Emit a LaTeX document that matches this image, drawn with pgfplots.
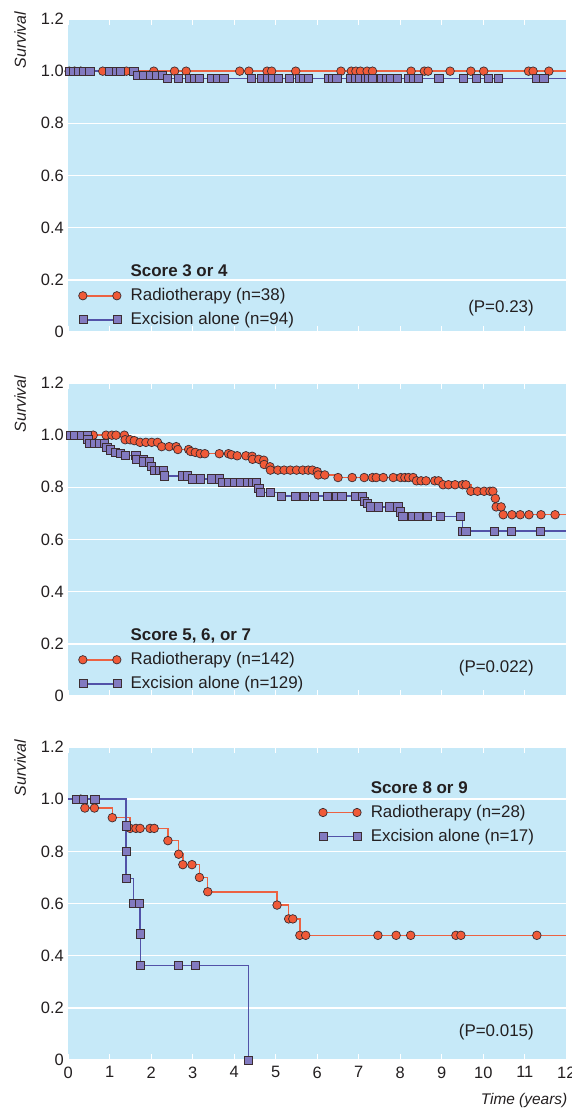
\documentclass[border=0pt]{standalone}
\usepackage{fontspec}
\setmainfont{Liberation Sans}
\usepackage{pgfplots}
\pgfplotsset{compat=1.18}
\usepackage{pgfplotstable}

\definecolor{bgblue}{RGB}{198,233,248}
\definecolor{redline}{RGB}{236,98,66}
\definecolor{redfill}{RGB}{240,90,56}
\definecolor{blueline}{RGB}{82,82,168}
\definecolor{bluefill}{RGB}{130,122,192}
\definecolor{edgec}{RGB}{60,45,50}
\definecolor{txt}{RGB}{35,31,32}

% ---------- Score 3 or 4 ----------
\pgfplotstableread{
t s
0 1
0.02 1
0.15 1
0.30 1
0.83 1
1.40 1
2.06 1
2.56 1
2.84 1
4.13 1
4.35 1
4.79 1
4.90 1
5.48 1
6.57 1
6.82 1
6.93 1
7.04 1
7.20 1
7.33 1
8.26 1
8.58 1
8.67 1
9.20 1
9.70 1
10.01 1
11.09 1
11.20 1
11.58 1
12 1
}\tRad
\pgfplotstableread{
t s
0 1
0.02 1
0.12 1
0.24 1
0.37 1
0.52 1
1.00 1
1.16 1
1.25 1
1.58 1
1.67 0.985
1.81 0.985
1.97 0.985
2.13 0.985
2.26 0.985
2.39 0.972
2.66 0.972
2.93 0.972
3.03 0.972
3.15 0.972
3.45 0.972
3.59 0.972
3.75 0.972
4.41 0.972
4.66 0.972
4.79 0.972
4.93 0.972
5.06 0.972
5.32 0.972
5.57 0.972
5.67 0.972
5.79 0.972
6.27 0.972
6.36 0.972
6.47 0.972
6.79 0.972
6.91 0.972
7.02 0.972
7.15 0.972
7.23 0.972
7.32 0.972
7.54 0.972
7.66 0.972
7.77 0.972
7.92 0.972
8.20 0.972
8.32 0.972
8.43 0.972
8.93 0.972
9.51 0.972
9.83 0.972
10.12 0.972
10.36 0.972
11.27 0.972
11.46 0.972
12 0.972
}\tExc

% ---------- Score 5, 6, or 7 ----------
\pgfplotstableread{
t s
0 1
0.60 1
0.91 1
1.05 1
1.15 1
1.35 1
1.37 0.9825
1.49 0.9825
1.59 0.979
1.73 0.9725
1.87 0.9725
2.01 0.9725
2.15 0.9725
2.25 0.956
2.43 0.956
2.60 0.956
2.64 0.945
2.90 0.945
2.95 0.9375
3.06 0.934
3.18 0.929
3.29 0.929
3.64 0.929
3.86 0.929
3.93 0.925
4.07 0.921
4.28 0.921
4.43 0.919
4.44 0.9075
4.59 0.9075
4.71 0.904
4.72 0.8875
4.86 0.879
4.87 0.866
5.05 0.866
5.20 0.866
5.35 0.866
5.50 0.866
5.65 0.866
5.78 0.866
5.88 0.866
6.00 0.86
6.02 0.8475
6.18 0.8475
6.50 0.8375
6.84 0.8375
7.13 0.8375
7.33 0.8375
7.42 0.8375
7.59 0.8375
7.83 0.8375
8.01 0.8375
8.11 0.8375
8.20 0.8375
8.31 0.8375
8.39 0.825
8.50 0.825
8.62 0.825
8.83 0.825
8.92 0.825
9.03 0.81
9.16 0.81
9.32 0.81
9.50 0.81
9.58 0.81
9.70 0.785
9.86 0.785
10.02 0.785
10.16 0.785
10.23 0.785
10.29 0.7575
10.31 0.725
10.43 0.725
10.48 0.695
10.69 0.695
10.89 0.695
11.10 0.695
11.39 0.695
11.73 0.695
12 0.695
}\mRad
\pgfplotstableread{
t s
0 1
0.04 1
0.16 1
0.31 1
0.46 1
0.47 0.985
0.52 0.969
0.64 0.969
0.76 0.969
0.86 0.969
0.93 0.954
1.01 0.944
1.13 0.935
1.25 0.93
1.37 0.9225
1.63 0.9225
1.64 0.906
1.80 0.906
1.81 0.8975
1.96 0.8975
2.00 0.881
2.08 0.864
2.20 0.864
2.29 0.864
2.32 0.844
2.74 0.844
2.86 0.844
3.00 0.8325
3.18 0.8325
3.44 0.8325
3.64 0.8325
3.72 0.819
3.86 0.819
4.01 0.819
4.15 0.819
4.31 0.819
4.43 0.819
4.53 0.819
4.59 0.7975
4.63 0.78
4.87 0.78
5.14 0.766
5.48 0.766
5.68 0.766
5.92 0.766
6.24 0.766
6.47 0.766
6.59 0.766
6.93 0.766
7.08 0.766
7.13 0.7475
7.21 0.7375
7.28 0.725
7.47 0.725
7.74 0.725
7.94 0.725
8.00 0.706
8.06 0.689
8.30 0.689
8.43 0.689
8.62 0.689
8.66 0.689
8.96 0.689
9.45 0.689
9.50 0.6325
9.58 0.6325
10.27 0.6325
10.67 0.6325
11.38 0.6325
12 0.6325
}\mExc

% ---------- Score 8 or 9 ----------
\pgfplotstableread{
t s
0 1
0.30 1
0.40 0.966
0.63 0.966
1.06 0.929
1.49 0.888
1.63 0.888
1.73 0.888
1.97 0.888
2.07 0.888
2.40 0.841
2.66 0.789
2.76 0.749
2.98 0.749
3.16 0.70
3.36 0.645
5.03 0.594
5.31 0.541
5.41 0.541
5.58 0.478
5.72 0.478
7.46 0.478
7.90 0.478
8.25 0.478
9.34 0.478
9.46 0.478
11.29 0.478
12 0.478
}\bRad
\pgfplotstableread{
t s
0 1
0.20 1
0.36 1
0.64 1
1.39 0.898
1.39 0.80
1.39 0.696
1.57 0.60
1.71 0.60
1.73 0.484
1.74 0.363
2.65 0.363
3.06 0.363
4.34 0
}\bExc

\tikzset{ptext/.style={anchor=east, font=\fontsize{17}{20}\selectfont, text=txt}}

\pgfplotsset{
  panel/.style={
    scale only axis, width=498bp, height=313bp,
    xmin=0, xmax=12, ymin=0, ymax=1.2,
    axis background/.style={fill=bgblue},
    axis line style={draw=none},
    ytick={0,0.2,0.4,0.6,0.8,1.0,1.2},
    yticklabels={0,0.2,0.4,0.6,0.8,1.0,1.2},
    xtick={0,1,2,3,4,5,6,7,8,9,10,11,12},
    ymajorgrids,
    major grid style={white, line width=1.6bp},
    tick align=inside, major tick length=6bp,
    xtick style={white, line width=1.3bp},
    ytick style={draw=none},
    ticklabel style={font=\fontsize{16.5}{18}\selectfont, text=txt},
    xticklabel style={yshift=-3bp},
    yticklabel style={xshift=-1bp},
    /pgf/number format/assume math mode=true,
    clip=false,
    ylabel={Survival},
    ylabel style={at={(rel axis cs:0,1)}, anchor=center, xshift=-21bp, yshift=48bp,
      font=\itshape\fontsize{16}{18}\selectfont, text=txt},
    legend cell align=left,
    legend style={draw=none, fill=none, inner sep=0pt, outer sep=0pt,
      row sep=8bp, column sep=0pt, anchor=north west,
      font=\fontsize{17}{20}\selectfont, text=txt,
      nodes={inner sep=0pt, text height=12.5bp, text depth=3.5bp}},
  },
  legimg/.style={legend image code/.code={%
      \draw[##1] plot coordinates {(0bp,0bp) (34bp,0bp)};
      \path (47bp,0bp);}},
  radleg/.style={legimg, color=redline, line width=1.5bp, mark=*, mark size=4.2bp,
    mark options={solid, fill=redfill, draw=edgec, line width=0.7bp}},
  excleg/.style={legimg, color=blueline, line width=1.5bp, mark=square*, mark size=4.0bp,
    mark options={solid, fill=bluefill, draw=edgec, line width=0.7bp}},
  radline/.style={const plot, color=redline, line width=1.5bp, forget plot},
  excline/.style={const plot, color=blueline, line width=1.5bp, forget plot},
  radmarks/.style={only marks, mark=*, mark size=4.3bp,
    mark options={fill=redfill, draw=edgec, line width=0.7bp},
    restrict x to domain=0.01:11.99, forget plot},
  excmarks/.style={only marks, mark=square*, mark size=4.1bp,
    mark options={fill=bluefill, draw=edgec, line width=0.7bp},
    restrict x to domain=0.01:11.99, forget plot},
}

\begin{document}
\begin{tikzpicture}
% ---------- top ----------
\begin{axis}[panel, name=top, anchor=north west, at={(0bp,0bp)},
  xticklabels={},
  legend style={at={(0.0208,0.218)}}]
\addplot[radline] table {\tRad};
\addplot[excline] table {\tExc};
\addplot[radmarks] table {\tRad};
\addplot[excmarks] table {\tExc};
\addlegendimage{empty legend}
\addlegendentry{\textbf{Score 3 or 4}}
\addlegendimage{radleg}
\addlegendentry{Radiotherapy (n=38)}
\addlegendimage{excleg}
\addlegendentry{Excision alone (n=94)}
\node[ptext] at (axis cs:11.30,0.092) {(P=0.23)};
\end{axis}
% ---------- middle ----------
\begin{axis}[panel, name=mid, anchor=north west, at={(0bp,-364bp)},
  xticklabels={},
  legend style={at={(0.0208,0.218)}}]
\addplot[radline] table {\mRad};
\addplot[excline] table {\mExc};
\addplot[radmarks] table {\mRad};
\addplot[excmarks] table {\mExc};
\addlegendimage{empty legend}
\addlegendentry{\textbf{Score 5, 6, or 7}}
\addlegendimage{radleg}
\addlegendentry{Radiotherapy (n=142)}
\addlegendimage{excleg}
\addlegendentry{Excision alone (n=129)}
\node[ptext] at (axis cs:11.30,0.107) {(P=0.022)};
\end{axis}
% ---------- bottom ----------
\begin{axis}[panel, name=bot, anchor=north west, at={(0bp,-728bp)},
  xlabel={Time (years)},
  xlabel style={at={(rel axis cs:1,0)}, anchor=east, xshift=4.5bp, yshift=-40bp,
    font=\itshape\fontsize{15.5}{17}\selectfont, text=txt},
  legend style={at={(0.503,0.893)}}]
\addplot[radline] table {\bRad};
\addplot[excline] table {\bExc};
\addplot[radmarks] table {\bRad};
\addplot[excmarks] table {\bExc};
\addlegendimage{empty legend}
\addlegendentry{\textbf{Score 8 or 9}}
\addlegendimage{radleg}
\addlegendentry{Radiotherapy (n=28)}
\addlegendimage{excleg}
\addlegendentry{Excision alone (n=17)}
\node[ptext] at (axis cs:11.30,0.108) {(P=0.015)};
\end{axis}
\pgfresetboundingbox
\path ([xshift=-68.3bp,yshift=19bp]top.north west) rectangle ([xshift=5.5bp,yshift=-50bp]bot.south east);
\end{tikzpicture}
\end{document}
